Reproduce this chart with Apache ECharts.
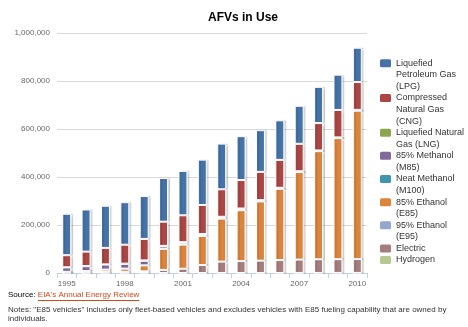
<!DOCTYPE html>
<html>
<head>
<meta charset="utf-8">
<script src="https://cdn.jsdelivr.net/npm/echarts@6/dist/echarts.min.js"></script>
<style>html,body{margin:0;padding:0;background:#fff}#c{width:468px;height:327px}</style>
</head>
<body>
<div id="c"></div>
<script>
const years = ['1995','1996','1997','1998','1999','2000','2001','2002','2003','2004','2005','2006','2007','2008','2009','2010'];
const lpg      = [172806,175585,175679,177183,178610,181994,185053,189000,190438,182864,173795,164846,158254,151049,147030,143037];
const cng      = [50218,60144,68571,78782,89556,100750,111851,120839,114406,118532,117699,116131,114391,113973,114270,115863];
const lng      = [603,663,813,1172,1681,2090,2576,2708,2640,2717,2748,2798,2781,3101,3176,3354];
const m85      = [18319,20265,21040,19648,18964,10426,7827,5873,5139,4592,3049,1549,800,0,0,0];
const m100     = [386,172,172,200,198,0,0,0,0,0,0,0,0,0,0,0];
const e85      = [1527,4536,9477,12788,24604,87570,100303,120951,179090,211800,246363,297099,364384,450327,504297,618505];
const e95      = [136,33,14,14,14,4,0,0,0,0,0,0,0,0,0,0];
const electric = [2860,3280,4453,5243,6964,13000,17847,33047,47485,49536,51398,53526,55730,56901,57185,57462];
const hydrogen = [0,0,0,0,0,0,0,0,9,43,119,159,223,313,357,421];
const yTicks = [0,200000,400000,600000,800000,1000000];

const seriesDefs = [
  {name:'Liquefied Petroleum Gas (LPG)', label:'Liquefied\nPetroleum Gas\n(LPG)', data:lpg, color:'#4572A7'},
  {name:'Compressed Natural Gas (CNG)', label:'Compressed\nNatural Gas\n(CNG)', data:cng, color:'#AA4643'},
  {name:'Liquefied Natural Gas (LNG)', label:'Liquefied Natural\nGas (LNG)', data:lng, color:'#89A54E'},
  {name:'85% Methanol (M85)', label:'85% Methanol\n(M85)', data:m85, color:'#80699B'},
  {name:'Neat Methanol (M100)', label:'Neat Methanol\n(M100)', data:m100, color:'#3D96AE'},
  {name:'85% Ethanol (E85)', label:'85% Ethanol\n(E85)', data:e85, color:'#DB843D'},
  {name:'95% Ethanol (E95)', label:'95% Ethanol\n(E95)', data:e95, color:'#92A8CD'},
  {name:'Electric', label:'Electric', data:electric, color:'#A47D7C'},
  {name:'Hydrogen', label:'Hydrogen', data:hydrogen, color:'#B5CA92'}
];

const FONT = '"Liberation Sans", Arial, Helvetica, sans-serif';
const LH = 11.57;
const legendTop0 = 57.5;

const legends = [];
let lineIdx = 0;
seriesDefs.forEach(d => {
  const n = d.label.split('\n').length;
  const h = n * LH;
  const c = LH / 2;
  const y1 = (c - 4).toFixed(2), y2 = (c + 4).toFixed(2);
  const icon = 'path://M1.5,' + y1 + 'H9.5Q11,' + y1 + ' 11,' + (c-2.5).toFixed(2) + 'V' + (c+2.5).toFixed(2) +
    'Q11,' + y2 + ' 9.5,' + y2 + 'H1.5Q0,' + y2 + ' 0,' + (c+2.5).toFixed(2) + 'V' + (c-2.5).toFixed(2) +
    'Q0,' + y1 + ' 1.5,' + y1 + 'Z M0,0 M0,' + h.toFixed(2);
  legends.push({
    orient: 'vertical',
    left: 380,
    top: legendTop0 + lineIdx * LH,
    padding: 0,
    itemGap: 0,
    itemWidth: 11,
    itemHeight: h,
    icon: icon,
    itemStyle: {borderWidth: 0},
    data: [d.name],
    formatter: () => d.label,
    textStyle: {fontSize: 9, lineHeight: LH, color: '#333', fontFamily: FONT}
  });
  lineIdx += n;
});

const series = seriesDefs.slice().reverse().map(d => ({
  name: d.name,
  type: 'bar',
  stack: 'total',
  barWidth: 9,
  data: d.data,
  itemStyle: {
    color: d.color,
    borderColor: '#ffffff',
    borderWidth: 1,
    shadowColor: 'rgba(0,0,0,0.13)',
    shadowBlur: 1,
    shadowOffsetX: 2,
    shadowOffsetY: 0
  },
  emphasis: {disabled: true}
}));

// width of the link text, for its underline
const ctx = document.createElement('canvas').getContext('2d');
ctx.font = '8px ' + FONT;
const linkX = 8 + ctx.measureText('Source: ').width;
const linkW = ctx.measureText("EIA's Annual Energy Review").width;

const chart = echarts.init(document.getElementById('c'), null, {renderer: 'canvas'});
chart.setOption({
  animation: false,
  backgroundColor: '#ffffff',
  title: {
    text: 'AFVs in Use',
    left: 208,
    top: 11,
    padding: 0,
    textStyle: {fontSize: 12, fontWeight: 'bold', color: '#000', fontFamily: FONT, lineHeight: 14}
  },
  legend: legends,
  grid: {left: 57, right: 101, top: 33, bottom: 54, containLabel: false},
  xAxis: {
    type: 'category',
    data: years,
    boundaryGap: true,
    axisLine: {lineStyle: {color: '#C0D0E0', width: 1}},
    axisTick: {show: true, interval: 0, length: 5, lineStyle: {color: '#C0D0E0'}},
    axisLabel: {interval: 2, color: '#666', fontSize: 8, fontFamily: FONT, margin: 7},
    splitLine: {show: false}
  },
  yAxis: {
    type: 'value',
    min: yTicks[0],
    max: yTicks[yTicks.length - 1],
    interval: yTicks[1] - yTicks[0],
    axisLine: {show: false},
    axisTick: {show: false},
    axisLabel: {color: '#666', fontSize: 8, fontFamily: FONT, margin: 7,
      formatter: v => v.toLocaleString('en-US')},
    splitLine: {lineStyle: {color: '#D8D8D8', width: 1}}
  },
  graphic: [
    {type: 'text', x: 8, y: 291, style: {
      text: 'Source: ', fontSize: 8, fill: '#000', fontFamily: FONT
    }},
    {type: 'text', x: linkX, y: 291, style: {
      text: "EIA's Annual Energy Review", fontSize: 8, fill: '#D24A1A', fontFamily: FONT
    }},
    {type: 'line', shape: {x1: linkX, y1: 300.5, x2: linkX + linkW, y2: 300.5},
      style: {stroke: '#D24A1A', lineWidth: 1}},
    {type: 'text', x: 8, y: 305, style: {
      text: 'Notes: "E85 vehicles" includes only fleet-based vehicles and excludes vehicles with E85 fueling capability that are owned by\nindividuals.',
      fontSize: 8, lineHeight: 9, fill: '#333', fontFamily: FONT
    }}
  ],
  series: series
});
</script>
</body>
</html>
